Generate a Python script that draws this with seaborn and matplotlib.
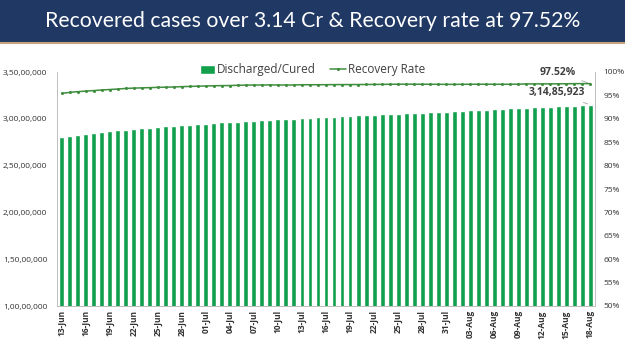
import matplotlib
matplotlib.use("Agg")
import matplotlib.pyplot as plt
import matplotlib.ticker as mticker
import numpy as np
import pandas as pd
import seaborn as sns

### Data
dates = pd.date_range("2021-06-13", "2021-08-18", freq="D")
date_labels = [d.strftime("%d-%b") for d in dates]

# recovered cases, in lakh
recovered_lakh = [
    280.43, 281.63, 282.80, 283.88, 284.91, 285.80, 286.64, 287.66, 288.44, 289.26,
    289.86, 290.63, 291.28, 291.93, 292.51, 293.09, 293.66, 294.27,              # 13-30 Jun
    294.88, 295.51, 296.06, 296.58, 297.00, 297.52, 297.99, 298.43, 298.88, 299.33,
    299.75, 300.14, 300.63, 301.04, 301.43, 301.83, 302.27, 302.69, 303.08, 303.53,
    303.92, 304.31, 304.68, 305.06, 305.43, 305.80, 306.20, 306.56, 306.90, 307.25,
    307.61,                                                                        # Jul
    308.34, 308.69, 309.05, 309.46, 309.88, 310.30, 310.68, 311.07, 311.46,
    311.86, 312.26, 312.66, 313.06, 313.44, 313.80, 314.12, 314.49, 314.85923,    # 1-18 Aug
]
recovered = [v * 1e5 for v in recovered_lakh]

recovery_rate = [
    95.43, 95.64, 95.80, 95.93, 96.03, 96.16, 96.26, 96.36, 96.49, 96.56,
    96.61, 96.66, 96.72, 96.75, 96.80, 96.87, 96.92, 96.97,
    97.01, 97.06, 97.09, 97.11, 97.17, 97.20, 97.22, 97.22, 97.25, 97.22,
    97.22, 97.22, 97.28, 97.28, 97.28, 97.29, 97.31, 97.31, 97.31, 97.32,
    97.33, 97.35, 97.36, 97.38, 97.39, 97.40, 97.39, 97.39, 97.38, 97.37,
    97.36,
    97.36, 97.37, 97.38, 97.39, 97.39, 97.38, 97.38, 97.38, 97.40,
    97.45, 97.46, 97.46, 97.46, 97.48, 97.49, 97.51, 97.52, 97.52,
]

df = pd.DataFrame({"date": date_labels, "recovered": recovered,
                   "rate": recovery_rate, "pos": np.arange(len(dates))})

bar_green = "#12A04C"
line_green = "#3E8E3E"

sns.set_style("white")
plt.rcParams["font.family"] = ["Open Sans", "DejaVu Sans"]


def indian_fmt(v, pos=None):
    s = str(int(round(v)))
    last3 = s[-3:]
    rest = s[:-3]
    parts = []
    while len(rest) > 2:
        parts.insert(0, rest[-2:])
        rest = rest[:-2]
    if rest:
        parts.insert(0, rest)
    return ",".join(parts + [last3])


fig = plt.figure(figsize=(6.25, 3.51), dpi=100)

# title banner
banner = fig.add_axes([0, 1 - 42 / 351, 1, 42 / 351])
banner.set_facecolor("#1F3864")
banner.set_xticks([])
banner.set_yticks([])
for s in banner.spines.values():
    s.set_visible(False)
banner.text(0.5, 0.5, "Recovered cases over 3.14 Cr & Recovery rate at 97.52%",
            color="white", fontsize=15.3, ha="center", va="center",
            family=["Lato", "DejaVu Sans"], transform=banner.transAxes)
fig.add_artist(plt.Line2D([0, 1], [1 - 43 / 351, 1 - 43 / 351], color="#C8A27C",
                          lw=1.5, transform=fig.transFigure))

ax = fig.add_axes([57 / 625, 1 - 306 / 351, (595 - 57) / 625, (306 - 72) / 351])
sns.barplot(data=df, x="date", y="recovered", color=bar_green, width=0.62,
            saturation=1, ax=ax, label="Discharged/Cured")
ax.set_ylim(1e7, 3.5e7)
ax.set_xlim(-0.6, len(dates) - 0.4)
ax.yaxis.set_major_locator(mticker.MultipleLocator(5e6))
ax.yaxis.set_major_formatter(mticker.FuncFormatter(indian_fmt))
ax.set_xticks(np.arange(0, len(dates), 3))
ax.set_xticklabels(date_labels[::3], rotation=90, fontsize=6, fontweight="bold",
                   color="#333333")
ax.tick_params(axis="y", labelsize=6, colors="#333333", length=0, pad=7)
ax.tick_params(axis="x", length=0, pad=3)
ax.set_xlabel("")
ax.set_ylabel("")
for s in ["top", "right"]:
    ax.spines[s].set_visible(False)
ax.spines["left"].set_color("#BFBFBF")
ax.spines["bottom"].set_color("#BFBFBF")
ax.spines["left"].set_linewidth(0.7)
ax.spines["bottom"].set_linewidth(0.7)

ax2 = ax.twinx()
sns.lineplot(data=df, x="pos", y="rate", color=line_green, marker="o",
             markersize=2.2, markeredgewidth=0, lw=1.1, ax=ax2, label="Recovery Rate")
ax2.set_ylim(50, 100)
ax2.set_xlim(-0.6, len(dates) - 0.4)
ax2.yaxis.set_major_locator(mticker.MultipleLocator(5))
ax2.yaxis.set_major_formatter(mticker.FuncFormatter(lambda v, p: f"{int(v)}%"))
ax2.tick_params(axis="y", labelsize=6, colors="#333333", length=0, pad=6)
ax2.set_ylabel("")
ax2.set_xlabel("")
for s in ["top", "left", "bottom"]:
    ax2.spines[s].set_visible(False)
ax2.spines["right"].set_color("#BFBFBF")
ax2.spines["right"].set_linewidth(0.7)

# legend
if ax.get_legend():
    ax.get_legend().remove()
ax2.get_legend().remove()
h1, l1 = ax.get_legend_handles_labels()
h2, l2 = ax2.get_legend_handles_labels()
fig.legend(h1 + h2, l1 + l2, loc="center", bbox_to_anchor=(0.5, 1 - 70 / 351),
           ncol=2, frameon=False, fontsize=8.5, handlelength=1.3,
           handletextpad=0.2, columnspacing=1.2, labelcolor="#404040")

# end labels
last = len(dates) - 1
ax2.annotate(f"{recovery_rate[-1]:.2f}%", xy=(last, recovery_rate[-1]),
             xytext=(last - 1.8, 99.9), ha="right", va="center", fontsize=7.5,
             fontweight="bold", color="#404040",
             arrowprops=dict(arrowstyle="-", color="#A6A6A6", lw=0.6))
ax.annotate(indian_fmt(recovered[-1]), xy=(last, recovered[-1]),
            xytext=(last - 0.6, 3.28e7), ha="right", va="center", fontsize=7.5,
            fontweight="bold", color="#404040",
            arrowprops=dict(arrowstyle="-", color="#A6A6A6", lw=0.6))

plt.savefig("out.png", dpi=100)
